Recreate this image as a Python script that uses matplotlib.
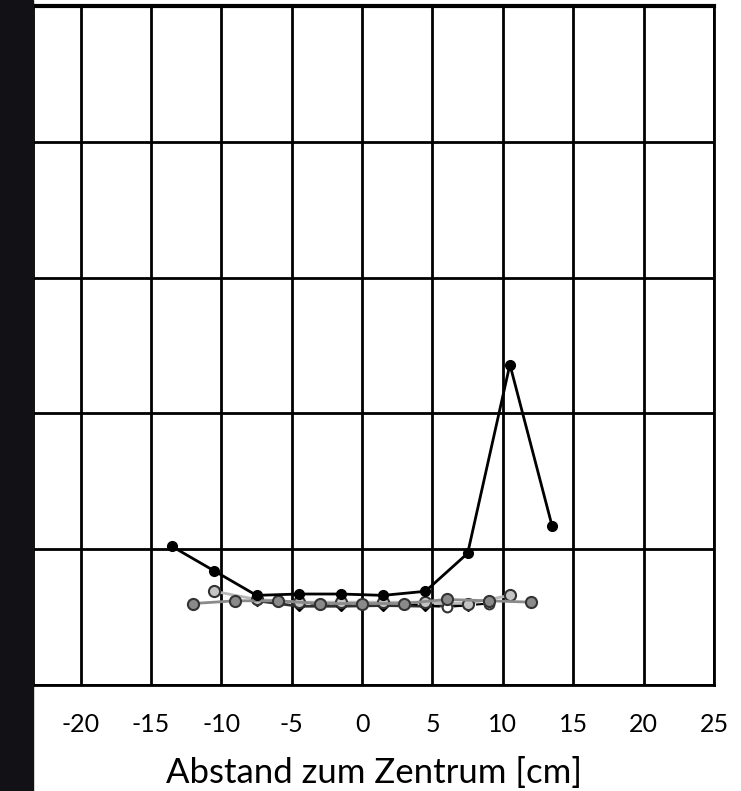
import matplotlib.pyplot as plt
from matplotlib.patches import Rectangle

plt.rcParams['axes.unicode_minus'] = False

# Messreihen (x in cm, y in willkürlichen Einheiten; Achse ohne Beschriftung)
x_a = [-13.5, -10.5, -7.5, -4.5, -1.5, 1.5, 4.5, 7.5, 10.5, 13.5]
y_a = [1.02, 0.84, 0.66, 0.67, 0.67, 0.66, 0.69, 0.97, 2.36, 1.17]

x_b = [-12, -9, -6, -3, 0, 3, 6, 9, 12]
y_b = [0.60, 0.62, 0.62, 0.60, 0.60, 0.60, 0.63, 0.62, 0.61]

x_c = [-10.5, -7.5, -4.5, -1.5, 1.5, 4.5, 7.5, 10.5]
y_c = [0.69, 0.63, 0.61, 0.61, 0.61, 0.61, 0.60, 0.66]

x_d = [-7.5, -4.5, -1.5, 1.5, 4.5, 7.5]
y_d = [0.62, 0.58, 0.58, 0.585, 0.58, 0.585]

x_e = [-6, -3, 0, 3, 6, 9]
y_e = [0.62, 0.595, 0.60, 0.60, 0.575, 0.60]

xticks = [-20, -15, -10, -5, 0, 5, 10, 15, 20, 25]

fig = plt.figure(figsize=(7.41, 7.91), dpi=100)
fig.patches.append(Rectangle((0, 0), 33 / 741, 1, transform=fig.transFigure,
                             color='#111116', zorder=0))
ax = fig.add_axes([33 / 741, 1 - 685 / 791, (714 - 33) / 741, (685 - 6) / 791])

ax.plot(x_d, y_d, color='#303030', lw=2, marker='D', ms=5,
        mfc='black', mec='black', zorder=3)
ax.plot(x_e, y_e, color='black', lw=1.5, ls='--', marker='o', ms=7,
        mfc='white', mec='#333333', mew=1.5, zorder=4)
ax.plot(x_c, y_c, color='#b8b8b8', lw=2, marker='o', ms=8,
        mfc='#c4c4c4', mec='#333333', mew=1.5, zorder=5)
ax.plot(x_b, y_b, color='#8a8a8a', lw=2, marker='o', ms=8,
        mfc='#8a8a8a', mec='#333333', mew=1.5, zorder=6)
ax.plot(x_a, y_a, color='black', lw=2, marker='o', ms=7,
        mfc='black', mec='black', zorder=7)

ax.set_xlim(-23.38, 25)
ax.set_ylim(0, 5)
ax.set_xticks(xticks)
ax.set_yticks(range(0, 6))
ax.set_yticklabels([])
ax.grid(True, color='black', lw=2)
ax.set_axisbelow(True)
ax.tick_params(length=0, pad=20, labelsize=18)
for lab in ax.get_xticklabels():
    lab.set_family('Lato')
for s in ax.spines.values():
    s.set_color('black')
    s.set_linewidth(2)
ax.spines['top'].set_linewidth(3)
ax.set_xlabel('Abstand zum Zentrum [cm]', fontsize=25, family='Lato', labelpad=15)

fig.savefig('out.png', dpi=100)
